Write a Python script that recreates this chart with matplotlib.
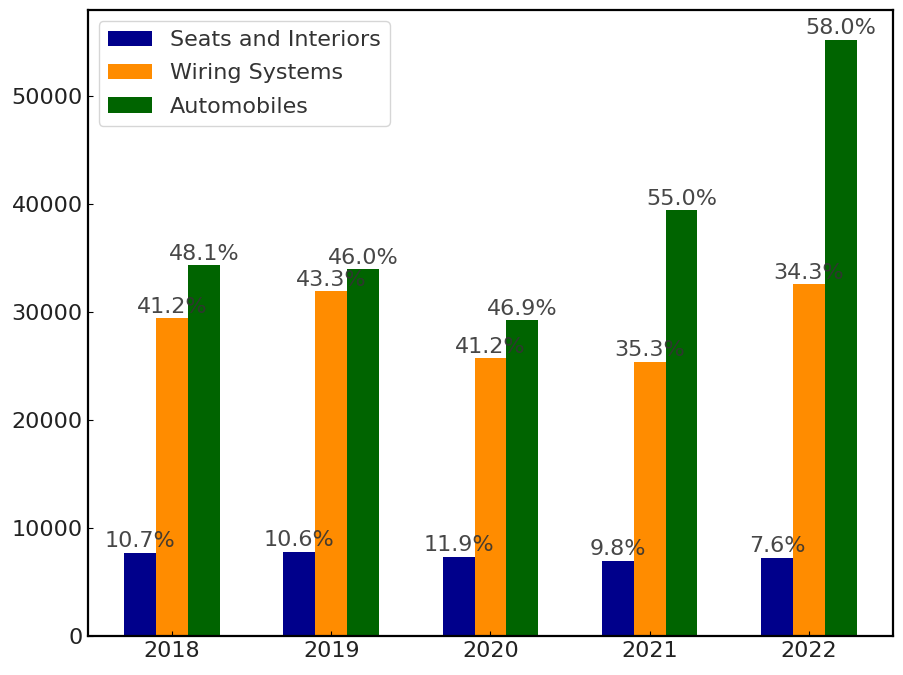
import numpy as np
from matplotlib import pyplot as plt

years = ['2018', '2019', '2020', '2021', '2022']
seats = [7700, 7790, 7330, 6960, 7240]
wiring = [29400, 31900, 25700, 25400, 32560]
autos = [34320, 33950, 29220, 39420, 55200]
seats_pct = ['10.7%', '10.6%', '11.9%', '9.8%', '7.6%']
wiring_pct = ['41.2%', '43.3%', '41.2%', '35.3%', '34.3%']
autos_pct = ['48.1%', '46.0%', '46.9%', '55.0%', '58.0%']

x = np.arange(len(years))
w = 0.2

fig, ax = plt.subplots(figsize=(9.04, 6.75), dpi=100)
series = [(seats, seats_pct, 'darkblue', 'Seats and Interiors', -w),
          (wiring, wiring_pct, 'darkorange', 'Wiring Systems', 0),
          (autos, autos_pct, 'darkgreen', 'Automobiles', w)]

for vals, pcts, col, name, off in series:
    bars = ax.bar(x + off, vals, w, color=col, label=name)
    for b, p in zip(bars, pcts):
        ax.text(b.get_x() + b.get_width() / 2, b.get_height() + 150, p,
                ha='center', va='bottom', fontsize=16, color='#333333', alpha=0.9)

ax.set_xticks(x)
ax.set_xticklabels(years)
ax.tick_params(direction='in', labelsize=16, colors='black', labelcolor='#222222')
for s in ax.spines.values():
    s.set_linewidth(1.6)
leg = ax.legend(loc='upper left', fontsize=16, labelspacing=0.6)
for t in leg.get_texts():
    t.set_color('#333333')

plt.subplots_adjust(left=0.097, right=0.988, top=0.985, bottom=0.058)
plt.savefig('out.png')
